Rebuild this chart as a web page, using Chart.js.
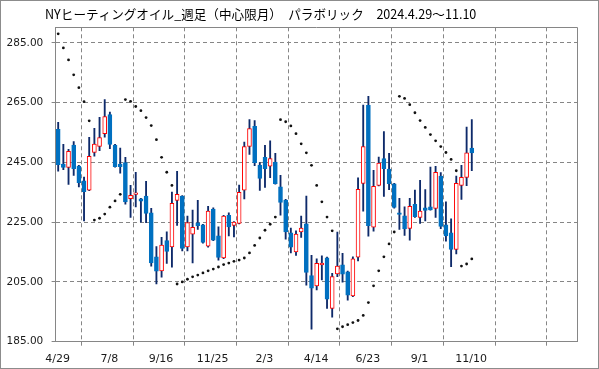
<!DOCTYPE html>
<html>
<head>
<meta charset="utf-8">
<script src="https://cdn.jsdelivr.net/npm/chart.js@4"></script>
<style>
  html, body { margin: 0; padding: 0; background: #fff; }
  #wrap { position: relative; width: 599px; height: 369px; }
</style>
</head>
<body>
<div id="wrap"><canvas id="chart"></canvas></div>
<script>
// weekly candles, 2024/4/29 .. 2025/11/10
const titleText = 'NYヒーティングオイル_週足（中心限月）　パラボリック　2024.4.29～11.10';
const tickLabels = ['4/29', '7/8', '9/16', '11/25', '2/3', '4/14', '6/23', '9/1', '11/10', '', ''];
const yTicks = [185, 205, 225, 245, 265, 285];

const opens = [
  256.1, 244.4, 243.3, 250.8, 243.8, 238.8, 235.7, 248.3, 250.3, 254.6,
  261.0, 250.8, 244.4, 244.9, 232.9, 234.3, 232.8, 233.7, 228.1, 213.4,
  208.7, 218.8, 216.7, 232.3, 233.7, 216.7, 221.0, 224.8, 224.1, 217.0,
  229.4, 220.4, 213.0, 227.3, 223.9, 224.6, 235.7, 250.3, 257.1, 244.1,
  246.7, 243.7, 245.1, 236.8, 232.4, 221.4, 215.0, 221.7, 224.4, 207.1,
  203.7, 210.7, 213.1, 196.1, 207.7, 210.7, 208.4, 200.3, 213.3, 238.0,
  264.1, 223.3, 237.3, 246.3, 242.8, 237.8, 228.1, 227.1, 222.9, 231.0,
  226.6, 229.8, 230.1, 229.6, 240.4, 224.1, 221.4, 215.9, 237.3, 240.0,
  249.8
];
const highs = [
  258.4, 251.0, 249.4, 252.0, 244.0, 240.1, 253.4, 256.4, 260.1, 266.0,
  261.8, 251.0, 249.8, 246.7, 237.3, 241.7, 233.0, 238.7, 229.6, 216.8,
  219.9, 221.8, 235.1, 242.0, 233.9, 227.0, 229.0, 232.3, 224.3, 230.3,
  229.8, 223.4, 227.3, 228.1, 225.2, 237.4, 251.8, 259.3, 259.0, 244.9,
  250.7, 252.2, 248.0, 240.7, 232.6, 223.0, 222.1, 227.0, 233.7, 213.9,
  212.7, 213.7, 213.3, 207.9, 221.7, 214.6, 208.6, 213.4, 239.8, 264.2,
  267.1, 242.3, 246.8, 255.3, 248.0, 238.0, 233.0, 230.1, 233.0, 235.7,
  239.0, 235.9, 243.4, 243.7, 241.6, 231.8, 226.1, 240.4, 244.0, 256.8,
  259.3
];
const lows = [
  242.1, 242.6, 237.6, 240.6, 236.8, 225.4, 235.5, 247.1, 248.9, 253.4,
  249.6, 243.4, 241.4, 231.0, 226.6, 230.1, 225.0, 224.8, 210.3, 204.3,
  206.6, 211.2, 209.9, 223.9, 215.4, 215.4, 211.4, 222.6, 218.0, 216.6,
  218.8, 212.3, 212.8, 220.4, 220.1, 224.4, 232.8, 247.7, 243.9, 235.6,
  236.6, 239.9, 237.7, 227.3, 219.3, 214.7, 213.9, 219.9, 203.9, 189.2,
  202.3, 205.7, 196.1, 193.2, 206.8, 204.9, 198.9, 200.1, 212.0, 228.7,
  220.3, 222.0, 237.1, 233.6, 235.9, 229.7, 222.6, 220.6, 219.0, 226.6,
  224.6, 225.4, 229.0, 226.6, 222.8, 218.6, 210.1, 214.4, 232.6, 237.2,
  242.2
];
const closes = [
  244.2, 243.3, 248.7, 242.9, 238.2, 235.2, 247.0, 251.1, 253.3, 260.3,
  251.0, 243.6, 243.6, 231.8, 234.0, 234.8, 232.0, 227.9, 211.4, 208.6,
  217.3, 215.2, 231.3, 234.3, 216.2, 224.9, 223.3, 223.8, 218.2, 228.7,
  219.0, 213.2, 227.0, 223.4, 225.0, 235.0, 250.3, 256.3, 244.9, 239.6,
  242.9, 246.3, 237.9, 231.6, 221.7, 216.6, 221.0, 223.0, 208.2, 202.9,
  211.2, 211.3, 199.2, 206.8, 210.3, 207.6, 200.6, 212.7, 236.0, 250.3,
  223.8, 237.0, 244.8, 242.9, 237.9, 229.9, 227.6, 222.7, 230.3, 226.8,
  228.7, 228.9, 229.1, 241.7, 223.6, 220.4, 215.9, 238.0, 240.0, 248.2,
  248.2
];
// parabolic SAR
const sar = [
  288.0, 283.3, 279.3, 274.3, 270.0, 265.3, 258.9, 225.7, 226.3, 227.7,
  230.0, 232.1, 234.3, 266.0, 265.4, 263.7, 262.3, 260.0, 257.3, 252.6,
  246.7, 241.7, 237.3, 204.3, 205.0, 205.9, 206.7, 207.3, 208.0, 208.7,
  209.3, 210.0, 210.8, 211.3, 211.9, 212.3, 213.0, 214.7, 217.2, 219.7,
  222.3, 224.3, 226.7, 259.3, 258.6, 257.2, 254.6, 251.2, 248.2, 244.0,
  237.3, 231.8, 226.7, 222.1, 189.3, 190.0, 190.7, 191.4, 192.1, 193.8,
  198.1, 203.7, 208.7, 213.4, 217.7, 221.7, 267.1, 266.4, 264.3, 261.6,
  259.0, 256.7, 254.3, 252.2, 250.3, 248.3, 246.0, 242.2, 210.3, 211.0,
  212.7
];

const upColor = '#FF0000';
const downColor = '#0070C0';
const wickColor = '#0E2A6A';
const gridColor = '#868686';

const isUp = i => closes[i] >= opens[i];
const bodies = opens.map((o, i) => ({ x: i + 0.5, y: [o, closes[i]] }));
const wicks = lows.map((l, i) => ({ x: i + 0.5, y: [l, highs[i]] }));
const sarPts = sar.map((v, i) => ({ x: i + 0.5, y: v }));

// title text, top/right edge of the plot and the outer picture frame
const frame = {
  id: 'frame',
  afterDraw(chart) {
    const { ctx, chartArea: a, width, height } = chart;
    ctx.save();
    ctx.lineWidth = 1;
    ctx.strokeStyle = gridColor;
    const l = Math.floor(a.left) + 0.5, t = Math.floor(a.top) + 0.5;
    const r = Math.floor(a.right) + 0.5, b = Math.floor(a.bottom) + 0.5;
    ctx.beginPath();
    ctx.moveTo(l, t);
    ctx.lineTo(r, t);
    ctx.lineTo(r, b);
    ctx.stroke();
    ctx.strokeStyle = '#8c8c8c';
    ctx.strokeRect(0.5, 0.5, width - 1, height - 1);

    ctx.fillStyle = '#000';
    ctx.font = "12.6px 'Noto Sans CJK JP'";
    ctx.textBaseline = 'middle';
    ctx.textAlign = 'left';
    ctx.fillText(titleText, 45, 14.7);
    ctx.restore();
  }
};

new Chart(document.getElementById('chart'), {
  type: 'bar',
  data: {
    datasets: [
      {
        type: 'line',
        label: 'SAR',
        data: sarPts,
        showLine: false,
        pointRadius: 1.4,
        pointBorderWidth: 0,
        pointBackgroundColor: '#111',
        order: 0
      },
      {
        label: 'body',
        data: bodies,
        grouped: false,
        barThickness: 4,
        minBarLength: 1.5,
        borderSkipped: false,
        borderWidth: 1,
        backgroundColor: c => isUp(c.dataIndex) ? '#ffffff' : downColor,
        borderColor: c => isUp(c.dataIndex) ? upColor : downColor,
        order: 1
      },
      {
        label: 'wick',
        data: wicks,
        grouped: false,
        barThickness: 1.2,
        borderWidth: 0,
        backgroundColor: wickColor,
        order: 2
      }
    ]
  },
  options: {
    responsive: true,
    maintainAspectRatio: false,
    devicePixelRatio: 1,
    animation: false,
    layout: { padding: { left: 0, right: 22, top: 27.3, bottom: 0 } },
    scales: {
      x: {
        type: 'linear',
        min: 0,
        max: 100.85,
        offset: false,
        afterBuildTicks: s => { s.ticks = tickLabels.map((_, k) => ({ value: k * 10 })); },
        afterFit: s => { s.height = 27.3; s.paddingLeft = 0; s.paddingRight = 0; },
        grid: { color: gridColor, tickLength: 4, tickColor: gridColor, tickBorderDash: [] },
        border: { display: true, color: gridColor, dash: [4, 3] },
        ticks: {
          autoSkip: false,
          maxRotation: 0,
          padding: 7,
          labelOffset: 2,
          color: '#1a1a1a',
          font: { family: 'DejaVu Sans', size: 11 },
          callback: (v, idx) => tickLabels[idx]
        }
      },
      y: {
        min: 185,
        max: 290.2,
        afterBuildTicks: s => { s.ticks = yTicks.map(v => ({ value: v })); },
        afterFit: s => { s.width = 55.6; s.paddingTop = 0; s.paddingBottom = 0; },
        grid: { color: gridColor, tickLength: 4, tickColor: gridColor, tickBorderDash: [] },
        border: { display: true, color: gridColor, dash: [4, 3] },
        ticks: {
          padding: 8.3,
          color: '#1a1a1a',
          font: { family: 'DejaVu Sans', size: 10.5 },
          callback: v => v.toFixed(2)
        }
      }
    },
    plugins: {
      legend: { display: false },
      tooltip: { enabled: false },
      title: { display: false }
    }
  },
  plugins: [frame]
});
</script>
</body>
</html>
